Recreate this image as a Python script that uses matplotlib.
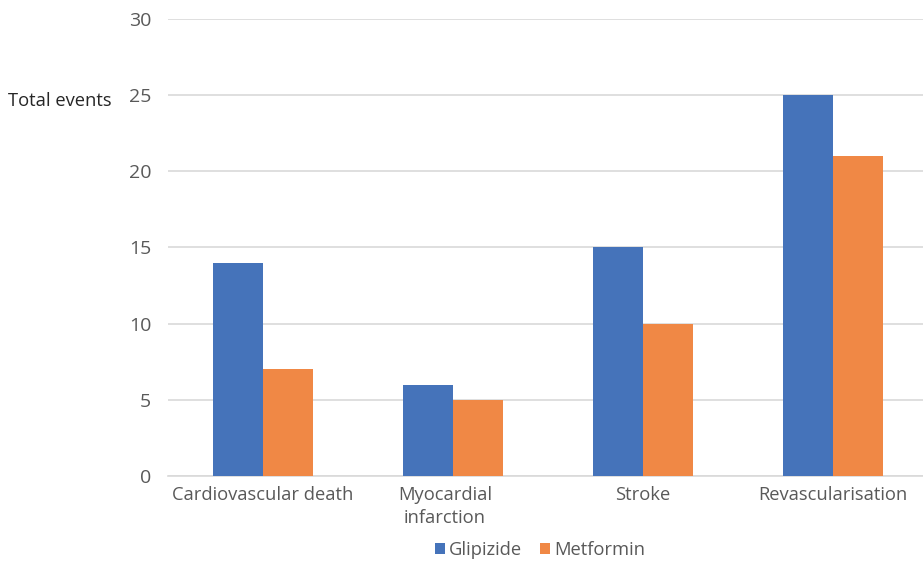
import matplotlib
matplotlib.use("Agg")
import matplotlib.pyplot as plt
import matplotlib.transforms as mtransforms
import numpy as np
from matplotlib.patches import Patch

categories = ["Cardiovascular death", "Myocardial\ninfarction", "Stroke", "Revascularisation"]
glipizide = [14, 6, 15, 25]
metformin = [7, 5, 10, 21]
yticks = [0, 5, 10, 15, 20, 25, 30]

BLUE = "#4573BA"
ORANGE = "#F08845"
GRAY = "#595959"

plt.rcParams["font.family"] = ["Open Sans", "DejaVu Sans"]

W, H = 923, 562
fig = plt.figure(figsize=(W / 100, H / 100), dpi=100)
ax_left, ax_right = 168 / W, 928 / W
ax_bottom, ax_top = (H - 476) / H, (H - 19) / H
ax = fig.add_axes([ax_left, ax_bottom, ax_right - ax_left, ax_top - ax_bottom])

x = np.arange(len(categories))
bw = 50 / 190
ax.bar(x - bw / 2, glipizide, bw, color=BLUE, label="Glipizide", zorder=3)
ax.bar(x + bw / 2, metformin, bw, color=ORANGE, label="Metformin", zorder=3)

ax.set_xlim(-0.5, len(categories) - 0.5)
ax.set_ylim(0, 30)
ax.set_yticks(yticks)
ax.set_yticklabels([str(v) for v in yticks])
ax.set_xticks(x)
ax.set_xticklabels(categories, linespacing=1.35)

ax.grid(axis="y", color="#D9D9D9", linewidth=1.2, zorder=0)
for s in ["top", "right", "left"]:
    ax.spines[s].set_visible(False)
ax.spines["bottom"].set_color("#D9D9D9")
ax.spines["bottom"].set_linewidth(1.2)

ax.tick_params(axis="both", length=0, labelcolor=GRAY)
ax.tick_params(axis="x", labelsize=13.2, pad=7)
ax.tick_params(axis="y", labelsize=14, pad=12)

# shift the wrapped two-line label a few pixels to the left
shift = mtransforms.ScaledTranslation(-8 / 100, 0, fig.dpi_scale_trans)
for tick in ax.xaxis.get_major_ticks():
    if "\n" in tick.label1.get_text():
        tick.label1.set_transform(tick.label1.get_transform() + shift)

fig.text(8 / W, (H - 101) / H, "Total events", fontsize=13.2, color="#262626",
         ha="left", va="center")

handles = [Patch(facecolor=BLUE, label="Glipizide"), Patch(facecolor=ORANGE, label="Metformin")]
fig.legend(handles=handles, loc="center", bbox_to_anchor=(540 / W, (H - 550) / H),
           ncol=2, frameon=False, fontsize=13.2, handlelength=0.55, handleheight=0.55,
           handletextpad=0.2, columnspacing=1.0, labelcolor=GRAY)

fig.savefig("out.png", dpi=100)
